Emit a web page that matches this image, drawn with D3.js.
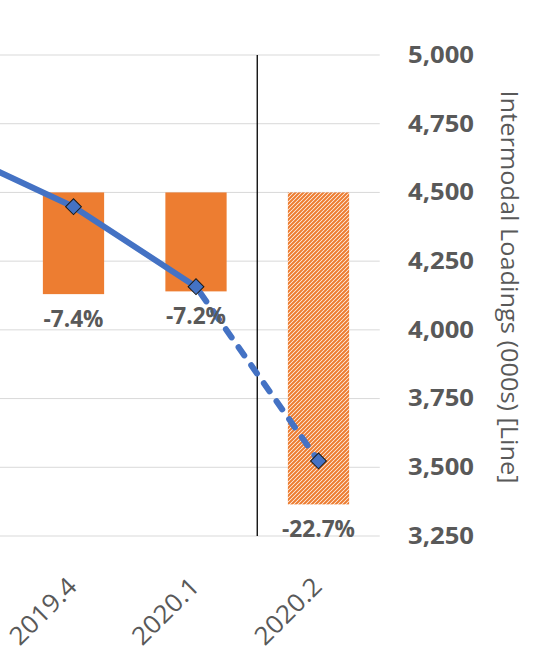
<!DOCTYPE html>
<html><head><meta charset="utf-8">
<script src="https://cdn.jsdelivr.net/npm/d3@7"></script>
<style>body{margin:0;background:#fff;overflow:hidden}svg{display:block}</style>
</head><body>
<svg id="chart" width="555" height="658"></svg>
<script>
// ---- data ----
const categories = ["2019.3", "2019.4", "2020.1", "2020.2"];
const loadings   = [4656, 4448, 4157, 3523];      // line, thousands
const pctChange  = [null, -7.4, -7.2, -22.7];     // bars, % y/y
const pctLabels  = ["", "-7.4%", "-7.2%", "-22.7%"];
const isForecast = [false, false, false, true];
const rightTicks = [3250, 3500, 3750, 4000, 4250, 4500, 4750, 5000];
const axisTitle  = "Intermodal Loadings (000s) [Line]";

// ---- setup ----
const svg = d3.select("#chart");
const ORANGE = "#ED7D31", BLUE = "#4472C4", TXT = "#595959", GRID = "#D9D9D9";
const FONT = "'Open Sans', Lato, sans-serif";
const plotRight = 379.75;

const x = d3.scaleBand().domain(categories).range([-110.25, plotRight]).padding(0);
const step = x.step();
const cx = c => x(c) + step / 2;
const yR = d3.scaleLinear().domain([3250, 5000]).range([536, 55]);
const yL = d3.scaleLinear().domain([-25, 10]).range([536, 55]);

// hatch pattern
const defs = svg.append("defs");
const pat = defs.append("pattern").attr("id", "hatch").attr("patternUnits", "userSpaceOnUse")
  .attr("width", 4).attr("height", 4);
pat.append("rect").attr("width", 4).attr("height", 4).attr("fill", "#fff");
pat.append("path").attr("d", "M-1,1 L1,-1 M0,4 L4,0 M3,5 L5,3")
  .attr("stroke", ORANGE).attr("stroke-width", 2.1);

// gridlines
svg.append("g").selectAll("line").data(rightTicks).join("line")
  .attr("x1", x.range()[0]).attr("x2", plotRight)
  .attr("y1", d => yR(d)).attr("y2", d => yR(d))
  .attr("stroke", GRID).attr("stroke-width", 1);

// bars
const barW = step * 0.5;
const barData = categories.map((c, i) => ({c, v: pctChange[i], lab: pctLabels[i], f: isForecast[i]}))
  .filter(d => d.v !== null);
svg.append("g").selectAll("rect").data(barData).join("rect")
  .attr("x", d => cx(d.c) - barW / 2).attr("width", barW)
  .attr("y", d => yL(Math.max(0, d.v)))
  .attr("height", d => Math.abs(yL(d.v) - yL(0)))
  .attr("fill", d => d.f ? "url(#hatch)" : ORANGE);

// vertical separator
svg.append("line").attr("x1", x("2020.2")).attr("x2", x("2020.2"))
  .attr("y1", yR(5000)).attr("y2", yR(3250)).attr("stroke", "#000").attr("stroke-width", 1.3);

// line
const pts = categories.map((c, i) => ({c, v: loadings[i], f: isForecast[i]}));
const lineGen = d3.line().x(d => cx(d.c)).y(d => yR(d.v));
const lastActual = pts.findIndex(d => d.f) - 1;
svg.append("path").datum(pts.slice(0, lastActual + 1)).attr("d", lineGen)
  .attr("fill", "none").attr("stroke", BLUE).attr("stroke-width", 6)
  .attr("stroke-linejoin", "round");
svg.append("path").datum(pts.slice(lastActual)).attr("d", lineGen)
  .attr("fill", "none").attr("stroke", BLUE).attr("stroke-width", 6)
  .attr("stroke-linecap", "round").attr("stroke-dasharray", "10,12").attr("stroke-dashoffset", -8);

// markers
svg.append("g").selectAll("path").data(pts).join("path")
  .attr("d", d3.symbol(d3.symbolSquare, 125))
  .attr("transform", d => `translate(${cx(d.c)},${yR(d.v)}) rotate(45)`)
  .attr("fill", BLUE).attr("stroke", "#1a1a1a").attr("stroke-width", 1);

// bar labels
svg.append("g").selectAll("text").data(barData).join("text")
  .attr("x", d => cx(d.c)).attr("y", d => yL(d.v) + 33)
  .attr("text-anchor", "middle").attr("font-family", FONT).attr("font-weight", 700)
  .attr("font-size", 23).attr("fill", TXT)
  .attr("textLength", d => d.lab.length > 5 ? 73 : 60).attr("lengthAdjust", "spacingAndGlyphs")
  .text(d => d.lab);

// right axis tick labels
const axR = svg.append("g").attr("transform", "translate(477,0)")
  .call(d3.axisLeft(yR).tickValues(rightTicks).tickSize(0).tickPadding(3).tickFormat(d3.format(",")));
axR.select(".domain").remove();
axR.selectAll("text").attr("font-family", FONT).attr("font-weight", 700).attr("font-size", 23)
  .attr("fill", TXT).attr("textLength", 66).attr("lengthAdjust", "spacingAndGlyphs");

// axis title
svg.append("text").attr("transform", "translate(501,287) rotate(90)")
  .attr("text-anchor", "middle").attr("font-family", FONT).attr("font-size", 24)
  .attr("fill", TXT).attr("textLength", 393).attr("lengthAdjust", "spacingAndGlyphs")
  .text(axisTitle);

// x labels (only categories inside the visible area)
svg.append("g").selectAll("text").data(categories.filter(c => cx(c) > 0)).join("text")
  .attr("transform", c => `translate(${cx(c) + 5},588) rotate(-45)`)
  .attr("text-anchor", "end").attr("font-family", FONT).attr("font-size", 25)
  .attr("fill", TXT).attr("textLength", 83).attr("lengthAdjust", "spacingAndGlyphs")
  .text(c => c);
</script>
</body></html>
